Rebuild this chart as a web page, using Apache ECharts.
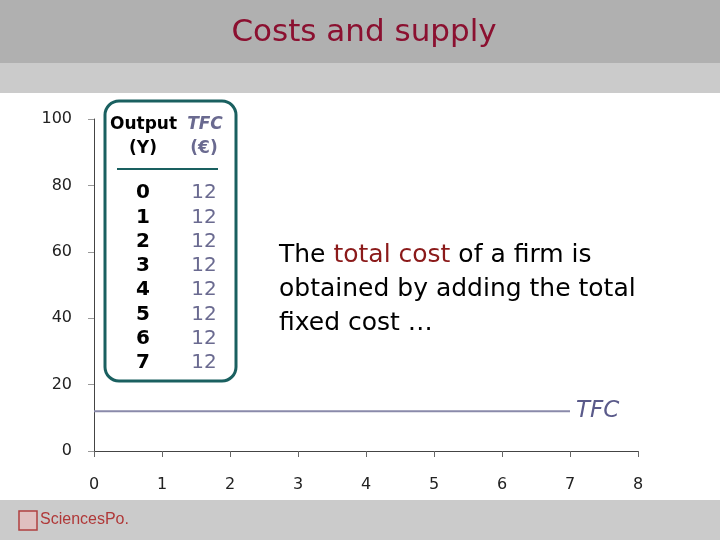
<!DOCTYPE html>
<html><head><meta charset="utf-8">
<script src="https://cdn.jsdelivr.net/npm/echarts@6/dist/echarts.min.js"></script>
<style>html,body{margin:0;padding:0;background:#fff}#c{width:720px;height:540px}</style>
</head><body><div id="c"></div>
<script>
const outputY = [0, 1, 2, 3, 4, 5, 6, 7];
const tfcValues = [12, 12, 12, 12, 12, 12, 12, 12];
const xTicks = [0, 1, 2, 3, 4, 5, 6, 7, 8];
const yTicks = [0, 20, 40, 60, 80, 100];
const titleText = 'Costs and supply';
const seriesName = 'TFC';

const FONT = 'DejaVu Sans';
const chart = echarts.init(document.getElementById('c'), null, {renderer: 'canvas'});

const graphics = [
  {type: 'rect', shape: {x: 0, y: 0, width: 720, height: 63}, style: {fill: '#b0b0b0'}, z: -10},
  {type: 'rect', shape: {x: 0, y: 63, width: 720, height: 30}, style: {fill: '#cbcbcb'}, z: -10},
  {type: 'rect', shape: {x: 0, y: 500, width: 720, height: 40}, style: {fill: '#cbcbcb'}, z: -10},
  {type: 'text', x: 364, y: 33, style: {text: titleText, fill: '#8b1030', font: '31px ' + FONT, textAlign: 'center', textVerticalAlign: 'middle'}},
  // table box
  {type: 'rect', shape: {x: 105, y: 101, width: 131, height: 280, r: 14}, style: {fill: 'none', stroke: '#1a6060', lineWidth: 3}},
  {type: 'text', x: 110, y: 125, style: {text: 'Output', fill: '#000', font: 'bold 17px ' + FONT, textVerticalAlign: 'middle'}},
  {type: 'text', x: 205, y: 125, style: {text: 'TFC', fill: '#6a6a90', font: 'italic bold 17px ' + FONT, textAlign: 'center', textVerticalAlign: 'middle'}},
  {type: 'text', x: 143, y: 149, style: {text: '(Y)', fill: '#000', font: 'bold 17px ' + FONT, textAlign: 'center', textVerticalAlign: 'middle'}},
  {type: 'text', x: 204, y: 149, style: {text: '(€)', fill: '#6a6a90', font: 'bold 17px ' + FONT, textAlign: 'center', textVerticalAlign: 'middle'}},
  {type: 'line', shape: {x1: 117, y1: 169, x2: 218, y2: 169}, style: {stroke: '#1a6060', lineWidth: 2}},
  // explanatory text
  {type: 'text', x: 279, y: 238, style: {
    text: '{a|The }{b|total cost}{a| of a firm is}\n{a|obtained by adding the total}\n{a|fixed cost …}',
    rich: {
      a: {fill: '#000', font: '25px ' + FONT, lineHeight: 34},
      b: {fill: '#8b1a1a', font: '25px ' + FONT, lineHeight: 34}
    },
    textVerticalAlign: 'top'
  }},
  // footer logo
  {type: 'rect', shape: {x: 19, y: 511, width: 18, height: 19}, style: {fill: '#e0c0c0', stroke: '#b04040', lineWidth: 1.5}},
  {type: 'text', x: 40, y: 520, style: {text: 'SciencesPo.', fill: '#b03838', font: '16px Liberation Sans', textVerticalAlign: 'middle'}}
];
outputY.forEach((v, i) => {
  const y = 193 + i * 24.3;
  graphics.push({type: 'text', x: 143, y: y, style: {text: String(v), fill: '#000', font: 'bold 20px ' + FONT, textAlign: 'center', textVerticalAlign: 'middle'}});
  graphics.push({type: 'text', x: 204, y: y, style: {text: String(tfcValues[i]), fill: '#6a6a90', font: '20px ' + FONT, textAlign: 'center', textVerticalAlign: 'middle'}});
});

chart.setOption({
  animation: false,
  backgroundColor: '#ffffff',
  grid: {left: 94, right: 82, top: 119, bottom: 89, containLabel: false},
  xAxis: {
    type: 'value', min: xTicks[0], max: xTicks[xTicks.length - 1], interval: 1,
    axisLine: {show: true, lineStyle: {color: '#444', width: 1}},
    axisTick: {show: true, length: 6, lineStyle: {color: '#666'}},
    axisLabel: {color: '#222', fontSize: 16, fontFamily: FONT, margin: 26},
    splitLine: {show: false}
  },
  yAxis: {
    type: 'value', min: yTicks[0], max: yTicks[yTicks.length - 1], interval: 20,
    axisLine: {show: true, lineStyle: {color: '#444', width: 1}},
    axisTick: {show: true, length: 6, lineStyle: {color: '#999'}},
    axisLabel: {color: '#222', fontSize: 16, fontFamily: FONT, margin: 22},
    splitLine: {show: false}
  },
  series: [{
    name: seriesName, type: 'line',
    data: outputY.map((x, i) => [x, tfcValues[i]]),
    showSymbol: false, symbol: 'none',
    lineStyle: {color: '#8a8aaa', width: 2},
    endLabel: {show: true, formatter: seriesName, color: '#5a5a8a', fontSize: 23, fontStyle: 'italic', fontFamily: FONT, distance: 6}
  }],
  graphic: graphics
});
</script></body></html>
